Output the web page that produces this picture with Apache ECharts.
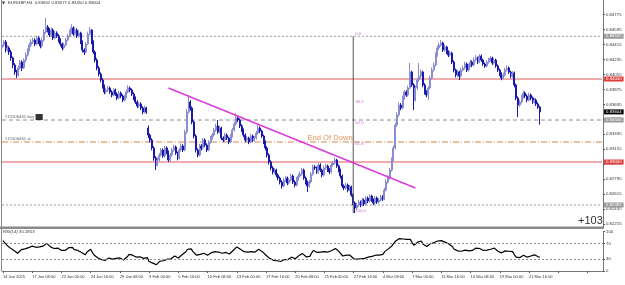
<!DOCTYPE html>
<html><head><meta charset="utf-8">
<script src="https://cdn.jsdelivr.net/npm/echarts@6/dist/echarts.min.js"></script>
<style>html,body{margin:0;padding:0;background:#fff}#c{width:625px;height:285px}</style>
</head><body><div id="c"></div>
<script>
// Prices in units of 0.00001 (EURGBP, H4)
const opens = [
84380,84410,84446,84349,84374,84325,84253,84169,84084,84048,
84133,84205,84133,84229,84289,84349,84410,84446,84470,84422,
84494,84446,84398,84470,84566,84627,84590,84530,84590,84494,
84554,84518,84470,84422,84374,84410,84470,84518,84566,84615,
84542,84590,84518,84554,84446,84349,84325,84422,84542,84590,
84446,84325,84229,84133,84060,83988,83916,83843,83867,83892,
83843,83807,83867,83819,83771,83831,83795,83747,83783,83843,
83892,83867,83819,83771,83723,83675,83699,83651,83602,83651,
83410,83325,83265,83169,83048,82964,83024,83084,83144,83072,
83169,83120,83024,83084,83144,83181,83108,83048,83144,83193,
83144,83361,83602,83723,83651,83482,83313,83144,83084,83193,
83169,83265,83205,83144,83241,83289,83325,83385,83434,83361,
83410,83289,83265,83325,83289,83241,83313,83385,83458,83530,
83506,83434,83385,83325,83265,83289,83241,83313,83265,83289,
83349,83410,83373,83313,83241,83169,83084,83000,82928,82879,
82903,82843,82807,82759,82711,82783,82807,82747,82783,82831,
82759,82723,82795,82831,82855,82903,82807,82759,82711,82759,
82855,82940,82928,82879,82964,82903,82843,82928,82952,82903,
82879,82964,82988,83024,82952,82903,82831,82711,82687,82723,
82662,82699,82602,82506,82446,82482,82518,82482,82542,82494,
82566,82530,82590,82542,82506,82566,82518,82542,82578,82554,
82662,82759,82807,82903,83024,83169,83446,83566,83687,83651,
83771,83843,83807,83892,84084,83928,83747,83892,83988,84036,
84084,83928,83843,83807,83892,84012,84108,84169,84289,84374,
84410,84434,84349,84386,84325,84289,84313,84205,84108,84048,
84084,84036,84108,84133,84181,84108,84157,84205,84169,84229,
84253,84205,84277,84229,84181,84157,84205,84229,84253,84193,
84229,84157,84108,84060,84012,84048,84108,84133,84084,84036,
84072,83928,83771,83687,83723,83783,83831,83795,83747,83807,
83771,83723,83747,83699,83662];
const highs = [
84450,84470,84470,84410,84395,84350,84270,84190,84110,84160,
84230,84225,84250,84320,84370,84440,84480,84500,84490,84520,
84515,84465,84500,84600,84735,84650,84615,84620,84610,84580,
84575,84540,84490,84440,84435,84495,84545,84595,84660,84635,
84625,84610,84585,84570,84465,84370,84445,84570,84627,84600,
84465,84345,84250,84155,84080,84010,83935,83895,83920,83910,
83865,83890,83885,83840,83855,83850,83815,83810,83870,83925,
83910,83885,83840,83790,83745,83725,83720,83670,83680,83665,
83440,83345,83285,83190,83070,83055,83110,83170,83165,83195,
83190,83140,83110,83170,83210,83200,83125,83170,83225,83215,
83390,83640,83807,83745,83670,83500,83335,83165,83220,83215,
83290,83285,83225,83265,83315,83350,83410,83460,83506,83435,
83425,83310,83350,83345,83305,83340,83410,83485,83590,83550,
83525,83455,83405,83345,83315,83305,83340,83330,83310,83375,
83450,83430,83390,83330,83260,83190,83105,83020,82950,82930,
82920,82865,82825,82780,82810,82835,82825,82810,82860,82850,
82780,82820,82860,82885,82930,82920,82825,82775,82785,82880,
82970,82965,82945,82990,82985,82920,82955,82980,82970,82925,
82990,83015,83055,83040,82970,82920,82850,82730,82750,82740,
82725,82715,82620,82525,82510,82545,82535,82570,82560,82590,
82585,82615,82605,82560,82590,82585,82570,82605,82600,82690,
82790,82840,82930,83055,83200,83475,83600,83720,83710,83800,
83870,83865,83920,84193,84100,83950,83920,84015,84193,84115,
84100,83950,83865,83915,84040,84140,84200,84320,84405,84440,
84470,84450,84415,84400,84345,84340,84330,84225,84125,84110,
84100,84135,84160,84210,84200,84185,84235,84225,84260,84290,
84270,84300,84295,84245,84200,84230,84255,84280,84270,84255,
84245,84175,84125,84080,84075,84135,84165,84150,84100,84095,
84090,83945,83790,83750,83810,83860,83850,83815,83835,83825,
83790,83775,83765,83720,83677];
const lows = [
84340,84390,84320,84330,84290,84220,84130,84050,84012,84030,
84110,84095,84120,84200,84270,84330,84385,84420,84395,84405,
84420,84370,84380,84450,84545,84560,84505,84510,84470,84480,
84495,84440,84395,84345,84355,84395,84455,84500,84545,84520,
84525,84495,84500,84420,84320,84290,84310,84410,84525,84420,
84300,84200,84105,84030,83960,83885,83815,83825,83845,83820,
83780,83790,83795,83745,83755,83770,83720,83730,83765,83825,
83840,83795,83745,83700,83650,83655,83625,83575,83585,83580,
83290,83235,83140,83015,82903,82945,83005,83065,83050,83055,
83095,83000,83005,83065,83125,83085,83020,83030,83125,83120,
83130,83340,83585,83620,83455,83285,83115,83055,83065,83140,
83150,83180,83120,83130,83220,83270,83305,83365,83340,83345,
83265,83240,83245,83265,83215,83225,83295,83365,83440,83480,
83410,83360,83300,83240,83245,83215,83225,83240,83245,83270,
83330,83350,83290,83215,83140,83055,82970,82900,82850,82860,
82815,82780,82730,82680,82695,82760,82720,82730,82765,82735,
82695,82705,82775,82810,82835,82785,82730,82638,82690,82740,
82835,82905,82855,82860,82880,82815,82825,82905,82880,82855,
82860,82945,82970,82930,82875,82800,82685,82660,82665,82635,
82645,82580,82480,82385,82425,82460,82455,82465,82470,82475,
82505,82510,82520,82480,82490,82495,82500,82525,82530,82540,
82645,82740,82790,82885,83005,83150,83425,83545,83625,83635,
83750,83785,83790,83875,83905,83626,83730,83870,83965,84015,
83900,83815,83780,83747,83875,83995,84090,84150,84270,84350,
84390,84325,84330,84300,84265,84270,84180,84080,84020,84025,
83988,84020,84090,84115,84085,84090,84140,84145,84150,84210,
84180,84190,84205,84160,84135,84140,84185,84210,84170,84175,
84135,84085,84035,83985,83995,84030,84090,84060,84010,84015,
83900,83745,83542,83665,83705,83765,83770,83720,83730,83745,
83700,83705,83675,83640,83450];
const closes = [
84410,84446,84349,84374,84325,84253,84169,84084,84048,84133,
84205,84133,84229,84289,84349,84410,84446,84470,84422,84494,
84446,84398,84470,84566,84627,84590,84530,84590,84494,84554,
84518,84470,84422,84374,84410,84470,84518,84566,84615,84542,
84590,84518,84554,84446,84349,84325,84422,84542,84590,84446,
84325,84229,84133,84060,83988,83916,83843,83867,83892,83843,
83807,83867,83819,83771,83831,83795,83747,83783,83843,83892,
83867,83819,83771,83723,83675,83699,83651,83602,83651,83602,
83325,83265,83169,83048,82964,83024,83084,83144,83072,83169,
83120,83024,83084,83144,83181,83108,83048,83144,83193,83144,
83361,83602,83723,83651,83482,83313,83144,83084,83193,83169,
83265,83205,83144,83241,83289,83325,83385,83434,83361,83410,
83289,83265,83325,83289,83241,83313,83385,83458,83530,83506,
83434,83385,83325,83265,83289,83241,83313,83265,83289,83349,
83410,83373,83313,83241,83169,83084,83000,82928,82879,82903,
82843,82807,82759,82711,82783,82807,82747,82783,82831,82759,
82723,82795,82831,82855,82903,82807,82759,82711,82759,82855,
82940,82928,82879,82964,82903,82843,82928,82952,82903,82879,
82964,82988,83024,82952,82903,82831,82711,82687,82723,82662,
82699,82602,82506,82446,82482,82518,82482,82542,82494,82566,
82530,82590,82542,82506,82566,82518,82542,82578,82554,82662,
82759,82807,82903,83024,83169,83446,83566,83687,83651,83771,
83843,83807,83892,84084,83928,83747,83892,83988,84036,84084,
83928,83843,83807,83892,84012,84108,84169,84289,84374,84410,
84434,84349,84386,84325,84289,84313,84205,84108,84048,84084,
84036,84108,84133,84181,84108,84157,84205,84169,84229,84253,
84205,84277,84229,84181,84157,84205,84229,84253,84193,84229,
84157,84108,84060,84012,84048,84108,84133,84084,84036,84072,
83928,83771,83687,83723,83783,83831,83795,83747,83807,83771,
83723,83747,83699,83662,83604];
const rsi = [
77,72,66,62,58,56,52,48,45,50,
54,51,56,58,59,61,63,65,60,64,
61,58,63,68,70,66,61,64,57,60,
58,55,52,49,52,56,59,58,60,54,
57,52,54,47,42,41,48,53,55,46,
40,36,33,31,29,28,27,30,33,31,
30,34,32,29,33,31,28,31,36,42,
46,40,37,35,33,36,34,32,36,34,
24,22,20,17,16,21,25,28,26,31,
30,27,31,35,38,35,33,38,41,39,
48,55,59,56,49,44,40,38,42,41,
45,43,40,44,46,47,49,51,48,50,
45,44,47,45,43,47,52,57,61,59,
55,52,49,46,48,45,49,47,48,51,
55,53,49,44,40,36,32,29,27,29,
26,25,24,22,29,31,29,32,35,32,
31,36,39,41,44,39,36,34,37,46,
52,50,47,52,48,44,49,51,48,47,
52,54,57,52,49,44,38,37,40,37,
40,35,31,28,30,32,31,34,32,37,
35,39,37,36,40,38,40,43,42,49,
54,56,60,64,68,76,79,82,80,81,
83,80,82,80,72,65,70,73,75,76,
68,64,62,66,69,71,72,74,76,77,
77,72,73,70,69,70,62,55,50,51,
47,50,52,53,49,51,54,52,55,58,
54,57,54,52,51,53,54,55,55,58,
53,50,48,46,48,51,53,50,47,49,
41,35,32,34,37,40,38,35,39,38,
36,41,38,36,35.1853];

const dateTicks = ['14 Jan 2025','17 Jan 08:00','22 Jan 00:00','24 Jan 16:00','29 Jan 08:00','3 Feb 00:00','5 Feb 16:00','10 Feb 08:00','13 Feb 00:00','17 Feb 16:00','20 Feb 08:00','25 Feb 00:00','27 Feb 16:00','4 Mar 08:00','7 Mar 00:00','11 Mar 16:00','14 Mar 08:00','19 Mar 00:00','21 Mar 16:00'];
const priceTicks = [0.82255,0.82435,0.82615,0.82795,0.82975,0.83155,0.83335,0.83515,0.83695,0.83875,0.84055,0.84235,0.84415,0.84595,0.84775];
const rsiTicks = [0,30,70,100];
const rsiLevels = [70,30];

// horizontal chart levels: price, line colour, dash, right-hand box colour
const levelPrices = [0.84515, 0.84000, 0.83604, 0.83506, 0.83241, 0.83000, 0.82482];
const levelColors = ['#9c9c9c', '#e05858', null, '#8c8c8c', '#d4854a', '#e05858', '#9c9c9c'];
const levelDashes = [[2, 2], 'solid', null, [4, 3], [6, 2, 1, 2], 'solid', [2, 2]];
const levelBoxes  = ['#9a9a9a', '#e03c3c', '#000000', '#9a9a9a', null, '#e03c3c', '#9a9a9a'];
// trend line anchors (bar index, price)
const trendBars = [91, 226];
const trendPrices = [0.83892, 0.82687];
// fibonacci retracement
const fibBar = 192;
const fibTop = 0.84515, fibBottom = 0.82385;
const fibLevels = [0, 38.2, 50.0, 61.8, 100.0];
// text annotation anchors
const endOfDown = {bar: 167, price: 0.83290, text: 'End Of Down'};
const orderLabels = [{bar: 1, price: 0.83506, text: '#15506461 buy'}, {bar: 1, price: 0.83241, text: '#15506461 sl'}];

const SLOTS = 329;
const cats = Array.from({length: SLOTS}, (_, i) => i);
const candles = opens.map((o, i) => [o / 1e5, closes[i] / 1e5, lows[i] / 1e5, highs[i] / 1e5]);

const F = 'Liberation Sans';
const FS = 4.3;

const levelSeries = levelPrices.map((p, k) => ({
  type: 'line', xAxisIndex: 0, yAxisIndex: 0, silent: true, symbol: 'none', z: 1,
  data: [[0, p], [SLOTS - 1, p]],
  lineStyle: levelColors[k] ? {color: levelColors[k], type: levelDashes[k], width: 1} : {opacity: 0},
  endLabel: levelBoxes[k] ? {show: true, distance: 2, formatter: () => p.toFixed(5), color: '#fff',
    backgroundColor: levelBoxes[k], padding: [1, 2, 0, 2], fontSize: FS, fontFamily: F} : {show: false}
}));

const chart = echarts.init(document.getElementById('c'), null, {renderer: 'canvas'});
chart.setOption({
  animation: false,
  backgroundColor: '#ffffff',
  textStyle: {fontFamily: F},
  grid: [
    {left: 1, top: 0, width: 602, height: 228},
    {left: 1, top: 231.5, width: 602, height: 39.5}
  ],
  xAxis: [
    {type: 'category', gridIndex: 0, data: cats, boundaryGap: true, axisLine: {show: false}, axisTick: {show: false}, axisLabel: {show: false}, splitLine: {show: false}},
    {type: 'category', gridIndex: 1, data: cats, boundaryGap: true,
     axisLine: {show: true, lineStyle: {color: '#777', width: 1}},
     axisTick: {show: true, interval: 15, alignWithLabel: true, length: 2, lineStyle: {color: '#555'}},
     axisLabel: {interval: 15, align: 'left', fontSize: 4, color: '#333', margin: 4, fontFamily: F,
       formatter: (v, i) => (i % 16 === 0 && i / 16 < dateTicks.length) ? dateTicks[i / 16] : ''},
     splitLine: {show: false}}
  ],
  yAxis: [
    {type: 'value', gridIndex: 0, position: 'right', min: 0.82205, max: 0.84952,
     axisLine: {show: true, lineStyle: {color: '#777'}},
     axisTick: {show: true, length: 2, customValues: priceTicks, lineStyle: {color: '#555'}},
     axisLabel: {fontSize: FS, color: '#333', margin: 3, customValues: priceTicks, formatter: v => v.toFixed(5), fontFamily: F},
     splitLine: {show: false}},
    {type: 'value', gridIndex: 1, position: 'right', min: 0, max: 100,
     axisLine: {show: true, lineStyle: {color: '#777'}},
     axisTick: {show: true, length: 2, customValues: rsiTicks, lineStyle: {color: '#555'}},
     axisLabel: {fontSize: FS, color: '#333', margin: 3, customValues: rsiTicks, fontFamily: F},
     splitLine: {show: false}}
  ],
  series: levelSeries.concat([
    {type: 'candlestick', xAxisIndex: 0, yAxisIndex: 0, data: candles, barWidth: 1.5, z: 3,
     itemStyle: {color: '#8c8cd2', color0: '#1a1aaa', borderColor: '#8c8cd2', borderColor0: '#1a1aaa', borderWidth: 1}},
    {type: 'line', xAxisIndex: 0, yAxisIndex: 0, data: [[fibBar, fibTop], [fibBar, fibBottom]],
     symbol: 'none', lineStyle: {color: '#555', width: 1}, silent: true, z: 4},
    {type: 'line', xAxisIndex: 0, yAxisIndex: 0, data: trendBars.map((b, i) => [b, trendPrices[i]]),
     symbol: 'none', lineStyle: {color: '#dc3adc', width: 1.5}, silent: true, z: 5},
    {type: 'scatter', xAxisIndex: 0, yAxisIndex: 0, symbolSize: 0, silent: true, z: 6,
     data: fibLevels.map(l => ({value: [fibBar, fibTop - (fibTop - fibBottom) * l / 100],
        label: {show: true, position: 'right', distance: 2, offset: [0, -2], formatter: l.toFixed(1), color: '#c048c0', fontSize: FS, fontFamily: F}}))
       .concat([{value: [endOfDown.bar, endOfDown.price], label: {show: true, position: 'right', distance: 0, formatter: endOfDown.text, color: '#e0782c', fontSize: 7.6, fontFamily: F}}])
       .concat(orderLabels.map((o, k) => ({value: [o.bar, o.price], label: {show: true, position: 'right', distance: 1, offset: [0, -3],
          formatter: k === 0 ? o.text + ' {b|      }' : o.text, color: '#333', fontSize: FS, fontFamily: F,
          rich: {b: {backgroundColor: '#000', height: 6, fontSize: FS}}}})))
    },
    {type: 'line', xAxisIndex: 1, yAxisIndex: 1, data: rsi, symbol: 'none', lineStyle: {color: '#000', width: 1.2}, silent: true,
     markLine: {silent: true, symbol: ['none', 'none'], label: {show: false},
       data: rsiLevels.map(v => ({yAxis: v, lineStyle: {color: '#888', type: [2, 2], width: 1}}))}}
  ]),
  graphic: [
    {type: 'rect', shape: {x: 0, y: 226.5, width: 603, height: 2.5}, style: {fill: '#8a8a8a'}, silent: true},
    {type: 'line', shape: {x1: 1.5, y1: 0, x2: 1.5, y2: 271}, style: {stroke: '#888', lineWidth: 1}, silent: true},
    {type: 'text', left: 2, top: 1, style: {text: '\u25BC', fontSize: 4, fill: '#333', fontFamily: 'DejaVu Sans'}},
    {type: 'text', left: 8, top: 1, style: {text: 'EURGBP,H4  0.83662 0.83677 0.83450 0.83604', fontSize: FS, fill: '#333', fontFamily: F}},
    {type: 'text', left: 3, top: 230, style: {text: 'RSI(14) 35.1853', fontSize: FS, fill: '#333', fontFamily: F}},
    {type: 'text', left: 578, top: 215, style: {text: '+103', fontSize: 11, fill: '#333', fontFamily: F}}
  ]
});
</script>
</body></html>
